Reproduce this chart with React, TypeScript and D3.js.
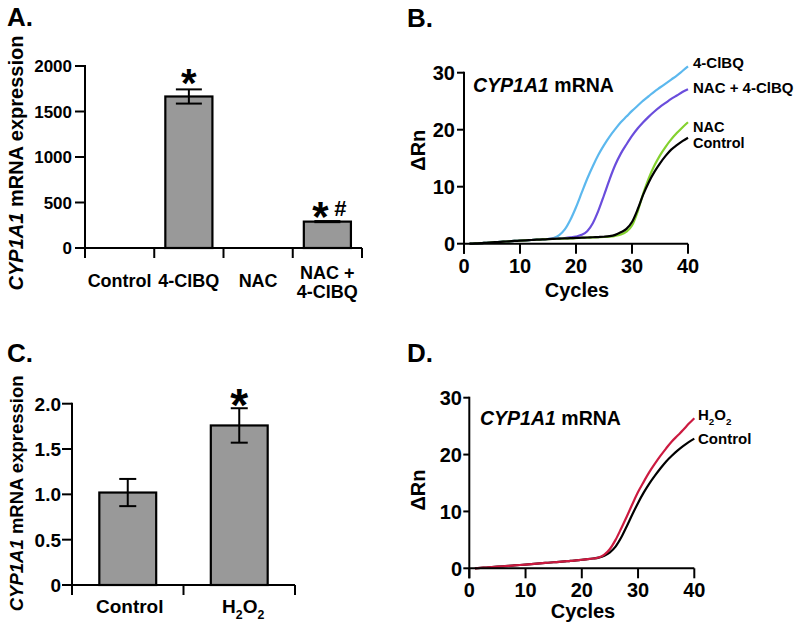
import React from 'react';
import * as d3 from 'd3';

// ---------- Data ----------
const catsA = ['Control', '4-ClBQ', 'NAC', 'NAC + 4-ClBQ'];
const labelLinesA = [['Control'], ['4-ClBQ'], ['NAC'], ['NAC +', '4-ClBQ']];
const valuesA = [0, 1665, 0, 290];
const errorsA = [0, 78, 0, 6];
const ticksA = [0, 500, 1000, 1500, 2000];

const catsC = ['Control', 'H2O2'];
const valuesC = [1.02, 1.76];
const errorsC = [0.15, 0.19];
const ticksC = [0, 0.5, 1, 1.5, 2];
const tickLabelsC = ['0', '0.5', '1.0', '1.5', '2.0'];

const cycleTicks = [0, 10, 20, 30, 40];
const rnTicks = [0, 10, 20, 30];

const cycles = [1, 2, 3, 4, 5, 6, 7, 8, 9, 10, 11, 12, 13, 14, 15, 16, 17, 18, 19, 20,
  21, 22, 23, 24, 25, 26, 27, 28, 29, 30, 31, 32, 33, 34, 35, 36, 37, 38, 39, 40];

const rnB_ClBQ = [0, 0.05, 0.1, 0.17, 0.23, 0.3, 0.36, 0.42, 0.48, 0.54, 0.6, 0.65, 0.7, 0.75, 0.82,
  1.0, 1.5, 2.5, 4.2, 6.4, 8.9, 11.4, 13.6, 15.6, 17.3, 18.8, 20.1, 21.3, 22.3, 23.3,
  24.2, 25.1, 25.9, 26.7, 27.4, 28.1, 28.8, 29.5, 30.3, 31.1];
const rnB_NACClBQ = [0, 0.05, 0.1, 0.17, 0.23, 0.3, 0.36, 0.42, 0.48, 0.54, 0.6, 0.65, 0.7, 0.75, 0.82,
  0.88, 0.94, 1.0, 1.1, 1.25, 1.55, 2.2, 3.6, 5.8, 8.5, 11.3, 13.8, 15.8, 17.4, 18.9,
  20.2, 21.3, 22.3, 23.2, 24.0, 24.7, 25.4, 26.0, 26.6, 27.1];
const rnB_NAC = [0, 0.05, 0.1, 0.17, 0.23, 0.3, 0.36, 0.42, 0.48, 0.54, 0.6, 0.65, 0.7, 0.75, 0.8,
  0.84, 0.88, 0.91, 0.94, 0.98, 1.02, 1.06, 1.1, 1.14, 1.18, 1.25, 1.38, 1.62, 2.1, 3.2,
  5.6, 8.8, 11.5, 13.7, 15.5, 17.0, 18.3, 19.4, 20.4, 21.3];
const rnB_Control = [0, 0.05, 0.1, 0.17, 0.23, 0.3, 0.36, 0.42, 0.48, 0.54, 0.6, 0.65, 0.7, 0.75, 0.8,
  0.85, 0.89, 0.93, 0.97, 1.01, 1.05, 1.09, 1.13, 1.17, 1.22, 1.32, 1.55, 2.0, 2.6, 3.8,
  6.0, 8.6, 10.8, 12.6, 14.1, 15.4, 16.5, 17.3, 18.0, 18.6];

const rnD_H2O2 = [0, 0.07, 0.14, 0.21, 0.28, 0.35, 0.42, 0.5, 0.58, 0.66, 0.74, 0.82, 0.9, 0.98, 1.06,
  1.14, 1.22, 1.3, 1.4, 1.5, 1.6, 1.72, 1.9, 2.4, 3.4, 5.0, 7.0, 9.1, 11.3, 13.4,
  15.2, 16.9, 18.4, 19.8, 21.1, 22.3, 23.3, 24.3, 25.4, 26.4];
const rnD_Control = [0, 0.07, 0.14, 0.21, 0.28, 0.35, 0.42, 0.5, 0.58, 0.66, 0.74, 0.82, 0.9, 0.98, 1.06,
  1.14, 1.22, 1.3, 1.4, 1.5, 1.6, 1.72, 1.88, 2.2, 2.8, 3.8, 5.4, 7.4, 9.5, 11.5,
  13.3, 14.9, 16.3, 17.6, 18.8, 19.8, 20.7, 21.5, 22.2, 22.8];

const seriesB = [
  { name: '4-ClBQ', values: rnB_ClBQ, color: '#5cb8ee' },
  { name: 'NAC + 4-ClBQ', values: rnB_NACClBQ, color: '#6a4ddc' },
  { name: 'NAC', values: rnB_NAC, color: '#84d12e' },
  { name: 'Control', values: rnB_Control, color: '#000000' },
];
const seriesD = [
  { name: 'Control', values: rnD_Control, color: '#000000' },
  { name: 'H2O2', values: rnD_H2O2, color: '#cc1a40' },
];

const FONT = "'Liberation Sans', Arial, Helvetica, sans-serif";

function H2O2({ x, y, size, anchor }: { x: number; y: number; size: number; anchor: string }) {
  const sub = size * 0.65;
  const d = size * 0.3;
  return (
    <text x={x} y={y} fontSize={size} textAnchor={anchor} fontFamily={FONT} fontWeight="bold">
      H<tspan fontSize={sub} dy={d}>2</tspan><tspan dy={-d}>O</tspan><tspan fontSize={sub} dy={d}>2</tspan>
    </text>
  );
}

function BarPanel(props: {
  cats: string[]; values: number[]; errors: number[]; ticks: number[]; tickLabels: string[];
  x0: number; x1: number; yTop: number; yBot: number; max: number; pad: number;
  tickFont: number; tickRight: number; tickLen: number; whisker: number;
}) {
  const { cats, values, errors, ticks, tickLabels, x0, x1, yTop, yBot, max, pad, tickFont, tickRight, tickLen, whisker } = props;
  const x = d3.scaleBand<string>().domain(cats).range([x0, x1]).paddingInner(pad).paddingOuter(pad / 2);
  const y = d3.scaleLinear().domain([0, max]).range([yBot, yTop]);
  const step = x.step();
  const bounds = d3.range(cats.length + 1).map(i => x0 + i * step);
  return (
    <g>
      {cats.map((c, i) => {
        const bx = x(c)!;
        const h = y(0) - y(values[i]);
        if (h < 0.5) return null;
        const cx = bx + x.bandwidth() / 2;
        return (
          <g key={c}>
            <rect x={bx} y={y(values[i])} width={x.bandwidth()} height={h} fill="#999999" stroke="#000" strokeWidth={2.2} />
            {errors[i] > 0 && (
              <g stroke="#000" strokeWidth={2}>
                <line x1={cx} x2={cx} y1={y(values[i] + errors[i])} y2={y(values[i] - errors[i])} />
                <line x1={cx - whisker} x2={cx + whisker} y1={y(values[i] + errors[i])} y2={y(values[i] + errors[i])} />
                <line x1={cx - whisker} x2={cx + whisker} y1={y(values[i] - errors[i])} y2={y(values[i] - errors[i])} />
              </g>
            )}
          </g>
        );
      })}
      <g stroke="#000" strokeWidth={2}>
        <line x1={x0} x2={x0} y1={y(max) - 1} y2={yBot + 10} />
        <line x1={x0} x2={x1} y1={yBot} y2={yBot} />
        {ticks.map(t => <line key={t} x1={x0 - tickLen} x2={x0} y1={y(t)} y2={y(t)} />)}
        {bounds.map((b, i) => <line key={i} x1={b} x2={b} y1={yBot} y2={yBot + 10} />)}
      </g>
      {ticks.map((t, i) => (
        <text key={t} x={tickRight} y={y(t)} dy="0.36em" textAnchor="end" fontSize={tickFont} fontFamily={FONT} fontWeight="bold">{tickLabels[i]}</text>
      ))}
    </g>
  );
}

function CurvePanel(props: {
  series: { name: string; values: number[]; color: string }[];
  x0: number; x1: number; yTop: number; yBot: number; tickRight: number; tickLen: number;
}) {
  const { series, x0, x1, yTop, yBot, tickRight, tickLen } = props;
  const x = d3.scaleLinear().domain([0, 40]).range([x0, x1]);
  const y = d3.scaleLinear().domain([0, 30]).range([yBot, yTop]);
  const line = d3.line<number>().x((_, i) => x(cycles[i])).y(v => y(v)).curve(d3.curveMonotoneX);
  return (
    <g>
      {series.map(s => (
        <path key={s.name} d={line(s.values)!} fill="none" stroke={s.color} strokeWidth={2.2} strokeLinejoin="round" />
      ))}
      <g stroke="#000" strokeWidth={2}>
        <line x1={x0} x2={x0} y1={y(30) - 1} y2={yBot + 10} />
        <line x1={x0} x2={x1} y1={yBot} y2={yBot} />
        {rnTicks.map(t => <line key={t} x1={x0 - tickLen} x2={x0} y1={y(t)} y2={y(t)} />)}
        {cycleTicks.map(t => <line key={t} x1={x(t)} x2={x(t)} y1={yBot} y2={yBot + 10} />)}
      </g>
      {rnTicks.map(t => (
        <text key={t} x={tickRight} y={y(t)} dy="0.36em" textAnchor="end" fontSize={20} fontFamily={FONT} fontWeight="bold">{t}</text>
      ))}
      {cycleTicks.map(t => (
        <text key={t} x={x(t)} y={yBot + 29} textAnchor="middle" fontSize={20} fontFamily={FONT} fontWeight="bold">{t}</text>
      ))}
    </g>
  );
}

export default function App() {
  const xA = d3.scaleBand<string>().domain(catsA).range([85, 362]).paddingInner(0.32).paddingOuter(0.16);
  const yA = d3.scaleLinear().domain([0, 2000]).range([248, 66]);
  const xC = d3.scaleBand<string>().domain(catsC).range([72, 295]).paddingInner(0.49).paddingOuter(0.245);
  const yC = d3.scaleLinear().domain([0, 2]).range([585, 403.7]);
  const cA = (c: string) => xA(c)! + xA.bandwidth() / 2;
  const cC = (c: string) => xC(c)! + xC.bandwidth() / 2;
  const yB = d3.scaleLinear().domain([0, 30]).range([243.7, 72.7]);
  const yD = d3.scaleLinear().domain([0, 30]).range([568.3, 397.7]);

  const txt = { fontFamily: FONT, fontWeight: 'bold' as const };

  return (
    <svg width={800} height={628} style={{ position: 'absolute', left: 0, top: 0, background: '#fff' }}>
      <rect width={800} height={628} fill="#fff" />
      {/* Panel letters */}
      <text x={7} y={26} fontSize={26} {...txt}>A.</text>
      <text x={407} y={27} fontSize={26} {...txt}>B.</text>
      <text x={7} y={362} fontSize={26} {...txt}>C.</text>
      <text x={407} y={362} fontSize={26} {...txt}>D.</text>

      {/* Panel A */}
      <BarPanel cats={catsA} values={valuesA} errors={errorsA} ticks={ticksA} tickLabels={ticksA.map(String)}
        x0={85} x1={362} yTop={66} yBot={248} max={2000} pad={0.32} tickFont={17} tickRight={72} tickLen={10} whisker={13} />
      {labelLinesA.map((lines, i) => (
        lines.length === 1 ? (
          <text key={i} x={cA(catsA[i])} y={287} textAnchor="middle" fontSize={18} {...txt}>{lines[0]}</text>
        ) : (
          <g key={i}>
            <text x={cA(catsA[i])} y={279} textAnchor="middle" fontSize={18} {...txt}>{lines[0]}</text>
            <text x={cA(catsA[i])} y={298} textAnchor="middle" fontSize={18} {...txt}>{lines[1]}</text>
          </g>
        )
      ))}
      <text x={cA(catsA[1])} y={96.5} textAnchor="middle" fontSize={40} {...txt}>*</text>
      <text x={cA(catsA[3]) - 7} y={231} textAnchor="middle" fontSize={42} {...txt}>*</text>
      <text x={cA(catsA[3]) + 13} y={216} textAnchor="middle" fontSize={22} {...txt}>#</text>
      <text transform={`translate(23,${(yA(0) + yA(2000)) / 2 + 6}) rotate(-90)`} textAnchor="middle" fontSize={20} {...txt}>
        <tspan fontStyle="italic">CYP1A1</tspan> mRNA expression
      </text>

      {/* Panel C */}
      <BarPanel cats={catsC} values={valuesC} errors={errorsC} ticks={ticksC} tickLabels={tickLabelsC}
        x0={72} x1={295} yTop={403.7} yBot={585} max={2} pad={0.49} tickFont={19} tickRight={61} tickLen={10} whisker={8.5} />
      <text x={cC(catsC[0]) + 2} y={613} textAnchor="middle" fontSize={19} {...txt}>Control</text>
      <H2O2 x={cC(catsC[1]) + 4} y={613} size={19} anchor="middle" />
      <text x={cC(catsC[1])} y={yC(valuesC[1] + errorsC[1]) + 13} textAnchor="middle" fontSize={46} {...txt}>*</text>
      <text transform={`translate(23,${(yC(0) + yC(2)) / 2 - 1}) rotate(-90)`} textAnchor="middle" fontSize={18.5} {...txt}>
        <tspan fontStyle="italic">CYP1A1</tspan> mRNA expression
      </text>

      {/* Panel B */}
      <CurvePanel series={seriesB} x0={464} x1={688} yTop={72.7} yBot={243.7} tickRight={455} tickLen={7} />
      <text x={473} y={92} fontSize={19.5} {...txt}><tspan fontStyle="italic">CYP1A1</tspan> mRNA</text>
      <text x={577} y={297} textAnchor="middle" fontSize={20} {...txt}>Cycles</text>
      <text transform={`translate(425,${(yB(0) + yB(30)) / 2 - 8}) rotate(-90)`} textAnchor="middle" fontSize={20} {...txt}>ΔRn</text>
      <text x={693} y={68} fontSize={15} {...txt}>4-ClBQ</text>
      <text x={693} y={93} fontSize={15} {...txt}>NAC + 4-ClBQ</text>
      <text x={693} y={132} fontSize={14.5} {...txt}>NAC</text>
      <text x={693} y={148} fontSize={14.5} {...txt}>Control</text>

      {/* Panel D */}
      <CurvePanel series={seriesD} x0={469.3} x1={694.3} yTop={397.7} yBot={568.3} tickRight={462} tickLen={6} />
      <text x={480} y={425} fontSize={19.5} {...txt}><tspan fontStyle="italic">CYP1A1</tspan> mRNA</text>
      <text x={583} y={618} textAnchor="middle" fontSize={20} {...txt}>Cycles</text>
      <text transform={`translate(425,${(yD(0) + yD(30)) / 2 + 7}) rotate(-90)`} textAnchor="middle" fontSize={20} {...txt}>ΔRn</text>
      <H2O2 x={698} y={420} size={15} anchor="start" />
      <text x={698} y={444} fontSize={15} {...txt}>Control</text>
    </svg>
  );
}
